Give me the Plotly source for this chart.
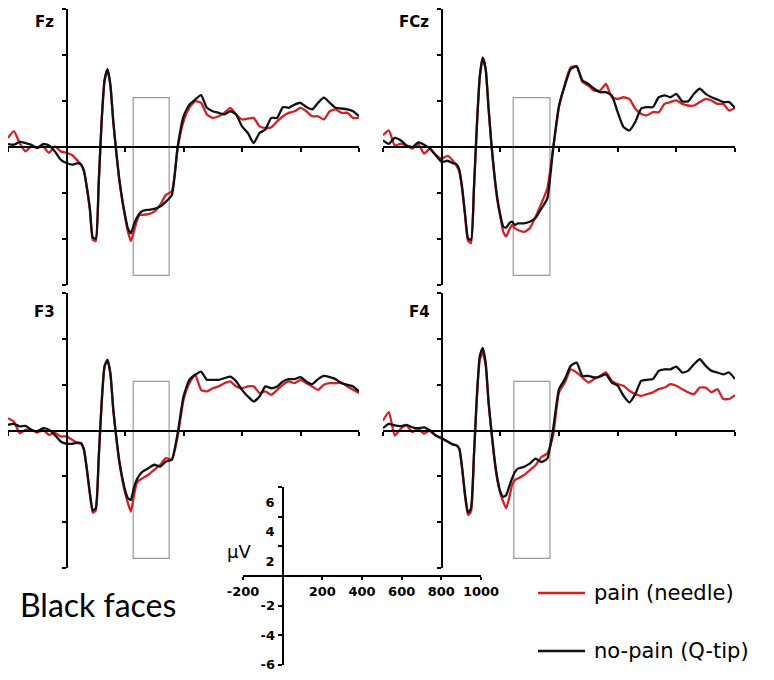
import plotly.graph_objects as go

W, H = 774, 680
PAGE_OFF = 8                      # default body margin of the html page
FW, FH = W - 2 * PAGE_OFF, H - 2 * PAGE_OFF
RED = "#d42027"
BLACK = "#111111"

# time axis (ms); denser sampling around the early peaks
time_ms = ([-200, -180, -160, -140, -120, -100, -80, -60, -40, -20, 0, 20, 40]
           + list(range(50, 261, 10)) + list(range(280, 1001, 20)))

fz_pain = [0.39, 0.69, 0.17, -0.19, 0.03, -0.04, 0.03, -0.26, 0.03, -0.19, -0.26, -0.36, -0.63,
           -0.77, -1.05, -1.80, -2.75, -4.05, -4.10, -1.60, 1.10, 2.90, 3.40, 2.70, 1.10, -0.20, -1.40,
           -2.30, -3.05, -3.70, -4.10, -3.70, -3.26, -2.96, -2.96,
           -2.93, -2.82, -2.53, -2.09, -1.94, -0.04, 1.12, 1.71, 2.00, 1.93, 1.42, 1.27, 1.34, 1.49,
           1.71, 1.42, 1.20, 1.24, 1.27, 0.90, 0.83, 0.86, 1.12, 1.34, 1.49, 1.56, 1.71, 1.56, 1.34,
           1.34, 1.20, 1.56, 1.64, 1.49, 1.49, 1.27, 1.27]
fz_nopain = [0.13, 0.10, 0.22, 0.17, 0.10, -0.04, 0.13, 0.07, -0.19, -0.55, -0.70, -0.77, -0.70,
             -0.77, -1.07, -1.80, -2.70, -3.95, -4.00, -1.60, 1.10, 2.90, 3.38, 2.70, 1.10, -0.20, -1.36,
             -2.23, -2.96, -3.55, -3.77, -3.40, -3.10, -2.89, -2.79,
             -2.74, -2.70, -2.60, -2.38, -2.10, 0.00, 1.34, 1.85, 2.07, 2.26, 1.71, 1.56, 1.49, 1.42,
             1.56, 1.42, 0.90, 0.61, 0.17, 0.61, 0.76, 1.27, 1.27, 1.74, 1.71, 1.85, 1.93, 1.74, 1.64,
             1.93, 2.15, 1.93, 1.71, 1.68, 1.64, 1.56, 1.34]

fcz_pain = [0.51, 0.72, 0.07, 0.14, 0.07, -0.07, 0.14, -0.29, -0.07, -0.36, -0.51, -0.39, -0.62,
            -0.80, -1.05, -1.85, -3.00, -4.10, -4.20, -1.85, 0.90, 3.05, 3.90, 3.40, 1.65, 0.05, -1.30,
            -2.35, -3.05, -3.70, -3.90, -3.62, -3.40, -3.55, -3.62,
            -3.70, -3.55, -3.04, -2.46, -1.81, -0.07, 1.74, 2.75, 3.48, 3.52, 2.83, 2.68, 2.46, 2.46,
            2.75, 2.17, 2.10, 2.17, 2.10, 1.67, 1.45, 1.38, 1.52, 1.52, 1.88, 1.96, 2.03, 1.88, 1.81,
            1.81, 1.96, 2.10, 2.03, 1.88, 1.88, 1.59, 1.70]
fcz_nopain = [0.29, 0.14, 0.40, 0.29, 0.07, 0.00, 0.20, 0.10, -0.07, -0.36, -0.65, -0.60, -0.72,
              -0.75, -1.00, -1.80, -2.97, -3.99, -4.06, -1.80, 0.94, 3.10, 3.90, 3.40, 1.67, 0.07, -1.23,
              -2.25, -2.97, -3.48, -3.52, -3.33, -3.26, -3.40, -3.33,
              -3.33, -3.26, -3.10, -2.68, -2.25, -0.07, 1.81, 2.68, 3.40, 3.52, 2.90, 2.75, 2.54, 2.39,
              2.39, 2.25, 1.52, 0.87, 0.72, 1.09, 1.67, 1.74, 1.74, 2.17, 2.25, 2.17, 2.32, 1.99, 1.99,
              2.32, 2.54, 2.32, 2.17, 2.07, 1.96, 1.96, 1.70]

f3_pain = [0.54, 0.39, -0.12, 0.03, 0.03, -0.09, 0.03, -0.19, -0.09, -0.26, -0.26, -0.41, -0.55,
           -0.58, -0.88, -1.75, -2.80, -3.60, -3.50, -1.25, 1.15, 2.80, 3.10, 2.50, 0.90, -0.30, -1.35,
           -2.10, -2.70, -3.18, -3.55, -2.89, -2.31, -2.16, -2.09,
           -1.94, -1.72, -1.50, -1.21, -1.28, -0.26, 1.34, 2.07, 2.44, 1.78, 1.71, 1.85, 1.93, 2.07,
           2.15, 1.93, 1.85, 1.93, 1.93, 1.64, 1.71, 1.56, 1.78, 2.00, 2.15, 2.07, 2.22, 2.07, 1.93,
           1.78, 2.00, 2.07, 2.07, 2.10, 1.93, 1.78, 1.64]
f3_nopain = [0.25, 0.29, 0.18, 0.20, 0.03, -0.04, 0.10, 0.03, -0.19, -0.48, -0.58, -0.58, -0.53,
             -0.55, -0.85, -1.72, -2.74, -3.50, -3.40, -1.20, 1.20, 2.80, 3.09, 2.50, 0.90, -0.26, -1.28,
             -2.01, -2.60, -2.96, -3.04, -2.53, -2.16, -1.94, -1.80,
             -1.65, -1.50, -1.58, -1.36, -1.28, -0.12, 1.49, 2.22, 2.44, 2.58, 2.22, 2.22, 2.22, 2.29,
             2.36, 2.15, 1.78, 1.49, 1.27, 1.49, 1.93, 1.85, 1.93, 2.15, 2.25, 2.25, 2.34, 2.15, 2.03,
             2.25, 2.39, 2.34, 2.25, 2.07, 2.00, 1.93, 1.71]

f4_pain = [0.43, 0.80, -0.22, 0.07, 0.22, -0.07, 0.07, -0.14, 0.00, -0.22, -0.36, -0.48, -0.62,
           -0.65, -0.80, -1.70, -2.90, -3.70, -3.55, -1.15, 1.40, 3.10, 3.40, 2.85, 1.20, -0.10, -1.30,
           -2.20, -2.75, -3.12, -3.40, -2.97, -2.39, -2.17, -2.10,
           -1.96, -1.74, -1.52, -1.16, -1.01, -0.22, 1.67, 2.10, 2.68, 2.54, 2.32, 2.10, 2.25, 2.39,
           2.54, 2.17, 2.03, 1.96, 1.74, 1.59, 1.52, 1.59, 1.67, 1.81, 1.88, 2.03, 1.96, 1.81, 1.67,
           1.59, 1.88, 1.88, 1.67, 1.81, 1.38, 1.38, 1.55]
f4_nopain = [0.10, 0.29, 0.22, 0.19, 0.25, 0.14, 0.10, 0.14, 0.00, -0.22, -0.33, -0.48, -0.62,
             -0.65, -0.80, -1.67, -2.83, -3.60, -3.40, -1.09, 1.52, 3.26, 3.62, 2.97, 1.23, -0.07, -1.23,
             -2.10, -2.68, -2.90, -2.83, -2.46, -2.10, -1.81, -1.67,
             -1.59, -1.45, -1.23, -1.38, -1.23, 0.07, 1.81, 2.25, 2.83, 2.97, 2.39, 2.39, 2.32, 2.36,
             2.46, 2.10, 1.96, 1.52, 1.23, 1.59, 2.17, 2.22, 2.25, 2.61, 2.68, 2.68, 2.80, 2.54, 2.61,
             2.90, 3.12, 2.83, 2.61, 2.54, 2.46, 2.54, 2.25]

# analysis windows (ms) and their amplitude extent (uV)
windows = {"Fz": (228, 351), "FCz": (244, 369), "F3": (228, 351), "F4": (246, 369)}
window_uv = (-5.6, 2.15)

X_RANGE = [-200, 1000]
Y_RANGE = [-6.02, 6.02]
x_ticks = [-200, 0, 200, 400, 600, 800, 1000]
y_ticks = [-6, -4, -2, 0, 2, 4, 6]

# panel placement in window pixels: (label, pain, nopain, x px span, y px span, label pos)
panels = [
    ("Fz", fz_pain, fz_nopain, (8, 359), (9, 285), (44, 22)),
    ("FCz", fcz_pain, fcz_nopain, (383, 735), (9, 285), (414, 22)),
    ("F3", f3_pain, f3_nopain, (8, 359), (293, 568), (44, 312)),
    ("F4", f4_pain, f4_nopain, (383, 735), (293, 568), (419, 312)),
]


def px_x(p):
    return (p - PAGE_OFF) / FW


def px_y(p):
    return 1 - (p - PAGE_OFF) / FH


fig = go.Figure()
layout = {}
annotations = []
shapes = []

for i, (name, pain, nopain, xs, ys, lab) in enumerate(panels, start=1):
    sfx = "" if i == 1 else str(i)
    xa, ya = "x" + sfx, "y" + sfx
    fig.add_trace(go.Scatter(x=time_ms, y=pain, xaxis=xa, yaxis=ya, mode="lines",
                             line=dict(color=RED, width=2.3, shape="spline", smoothing=0.5),
                             name="pain (needle)", showlegend=False, hoverinfo="skip"))
    fig.add_trace(go.Scatter(x=time_ms, y=nopain, xaxis=xa, yaxis=ya, mode="lines",
                             line=dict(color=BLACK, width=2.3, shape="spline", smoothing=0.5),
                             name="no-pain (Q-tip)", showlegend=False, hoverinfo="skip"))
    x_dom = [max(px_x(xs[0]), 0), px_x(xs[1])]
    y_dom = [px_y(ys[1]), min(px_y(ys[0]), 1)]
    x_zero = x_dom[0] + (0 - X_RANGE[0]) / (X_RANGE[1] - X_RANGE[0]) * (x_dom[1] - x_dom[0])
    y_zero = y_dom[0] + (0 - Y_RANGE[0]) / (Y_RANGE[1] - Y_RANGE[0]) * (y_dom[1] - y_dom[0])
    layout["xaxis" + sfx] = dict(domain=x_dom, range=X_RANGE, anchor="free", position=y_zero,
                                 showline=True, linecolor="black", linewidth=2, ticks="outside",
                                 ticklen=4, tickwidth=1.5, tickcolor="black", tickvals=x_ticks,
                                 showticklabels=False, showgrid=False, zeroline=False,
                                 automargin=False)
    layout["yaxis" + sfx] = dict(domain=y_dom, range=Y_RANGE, anchor="free", position=x_zero,
                                 showline=True, linecolor="black", linewidth=2, ticks="outside",
                                 ticklen=4, tickwidth=1.5, tickcolor="black", tickvals=y_ticks,
                                 showticklabels=False, showgrid=False, zeroline=False,
                                 automargin=False)
    w0, w1 = windows[name]
    shapes.append(dict(type="rect", xref=xa, yref=ya, x0=w0, x1=w1, y0=window_uv[0], y1=window_uv[1],
                       line=dict(color="#9a9a9a", width=1.2), layer="below"))
    annotations.append(dict(text="<b>%s</b>" % name, xref="paper", yref="paper",
                            x=px_x(lab[0]), y=px_y(lab[1]), xanchor="center", yanchor="middle",
                            showarrow=False, font=dict(family="DejaVu Sans", size=15, color="black")))

# calibration (scale) axes
sc_x = (243, 481)
sc_y = (487, 665)
sc_xdom = [px_x(sc_x[0]), px_x(sc_x[1])]
sc_ydom = [px_y(sc_y[1]), px_y(sc_y[0])]
sc_xzero = sc_xdom[0] + 200 / 1200 * (sc_xdom[1] - sc_xdom[0])
sc_yzero = (sc_ydom[0] + sc_ydom[1]) / 2
scale_x_text = ["-200", "", "200", "400", "600", "800", "1000"]
scale_y_neg = ["-6", "-4", "-2", "", "", "", ""]
scale_y_pos_vals = [1, 3, 5]
scale_y_pos_text = ["2", "4", "6"]
tick_font = dict(family="DejaVu Sans", size=13, color="black", weight="bold")

fig.add_trace(go.Scatter(x=[], y=[], xaxis="x5", yaxis="y5", showlegend=False, hoverinfo="skip"))
fig.add_trace(go.Scatter(x=[], y=[], xaxis="x5", yaxis="y6", showlegend=False, hoverinfo="skip"))
layout["xaxis5"] = dict(domain=sc_xdom, range=X_RANGE, anchor="free", position=sc_yzero,
                        showline=True, linecolor="black", linewidth=2, ticks="outside", ticklen=3,
                        tickwidth=1.5, tickcolor="black", tickvals=x_ticks, ticktext=scale_x_text,
                        tickfont=tick_font, showgrid=False, zeroline=False, automargin=False)
layout["yaxis5"] = dict(domain=sc_ydom, range=Y_RANGE, anchor="free", position=sc_xzero,
                        showline=True, linecolor="black", linewidth=2, ticks="outside", ticklen=4,
                        tickwidth=1.5, tickcolor="black", tickvals=y_ticks, ticktext=scale_y_neg,
                        tickfont=tick_font, showgrid=False, zeroline=False, automargin=False,
                        ticklabeloverflow="allow")
layout["yaxis6"] = dict(overlaying="y5", range=Y_RANGE, anchor="free", position=sc_xzero,
                        showline=False, ticks="", tickvals=scale_y_pos_vals,
                        ticktext=scale_y_pos_text, tickfont=tick_font, ticklabelstandoff=8,
                        showgrid=False, zeroline=False, automargin=False)
annotations.append(dict(text="µV", xref="paper", yref="paper", x=px_x(239), y=px_y(551),
                        xanchor="center", yanchor="middle", showarrow=False,
                        font=dict(family="DejaVu Sans", size=18, color="black")))

annotations.append(dict(text="Black faces", xref="paper", yref="paper", x=px_x(18), y=px_y(604),
                        xanchor="left", yanchor="middle", showarrow=False,
                        font=dict(family="Lato", size=32, color="black")))

# legend drawn by hand
legend_items = [("pain (needle)", RED, 593), ("no-pain (Q-tip)", BLACK, 651)]
for text, col, yy in legend_items:
    shapes.append(dict(type="line", xref="paper", yref="paper", x0=px_x(538), x1=px_x(585),
                       y0=px_y(yy), y1=px_y(yy), line=dict(color=col, width=2.5)))
    annotations.append(dict(text=text, xref="paper", yref="paper", x=px_x(592), y=px_y(yy),
                            xanchor="left", yanchor="middle", showarrow=False,
                            font=dict(family="DejaVu Sans", size=21, color="black")))

fig.update_layout(layout)
fig.update_layout(width=FW, height=FH, margin=dict(l=0, r=0, t=0, b=0),
                  paper_bgcolor="white", plot_bgcolor="rgba(0,0,0,0)",
                  annotations=annotations, shapes=shapes, showlegend=False)

fig.write_html("out.html")
